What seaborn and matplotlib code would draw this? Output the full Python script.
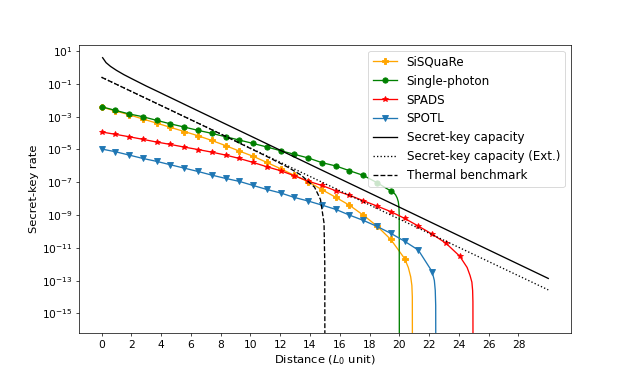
import matplotlib
matplotlib.use("Agg")
import matplotlib.pyplot as plt
import seaborn as sns
import pandas as pd

# marker positions along the distance axis (L0 units)
dist = [0.0, 0.925, 1.85, 2.775, 3.7, 4.625, 5.55, 6.475, 7.4, 8.325, 9.25,
        10.175, 11.1, 12.025, 12.95, 13.875, 14.8, 15.725, 16.65, 17.575, 18.5,
        19.425, 20.35, 21.275, 22.2, 23.125, 24.05]

sisquare = [3.8e-3, 2.2e-3, 1.3e-3, 7.1e-4, 4.0e-4, 2.2e-4, 1.23e-4, 6.8e-5, 3.5e-5,
            1.7e-5, 7.9e-6, 3.8e-6, 1.6e-6, 6.6e-7, 2.6e-7, 1.07e-7, 3.5e-8, 1.2e-8,
            3.9e-9, 9.8e-10, 2.1e-10, 3.2e-11, 2.2e-12]
sisquare_tail_x = [20.6, 20.76, 20.84, 20.87, 20.88]
sisquare_tail_y = [6.3e-13, 1.7e-13, 5e-14, 1e-14, 1e-20]

single = [3.98e-3, 2.4e-3, 1.45e-3, 9.8e-4, 5.9e-4, 3.6e-4, 2.3e-4, 1.45e-4, 9.5e-5,
          5.9e-5, 3.7e-5, 2.3e-5, 1.4e-5, 8.3e-6, 5.0e-6, 3.0e-6, 1.55e-6, 9.8e-7,
          5.0e-7, 2.6e-7, 9.3e-8, 2.9e-8]
single_tail_x = [19.6, 19.75, 19.85, 19.93, 19.97, 19.99, 20.0]
single_tail_y = [2.4e-8, 1.66e-8, 1.1e-8, 6.3e-9, 3.2e-9, 1e-9, 1e-20]

spads = [1.15e-4, 8.3e-5, 5.9e-5, 4.1e-5, 2.8e-5, 2.0e-5, 1.38e-5, 9.8e-6, 6.8e-6,
         4.5e-6, 2.8e-6, 1.6e-6, 8.7e-7, 5.0e-7, 2.45e-7, 1.15e-7, 6.3e-8, 3.0e-8,
         1.6e-8, 7.4e-9, 3.5e-9, 1.6e-9, 6.2e-10, 2.1e-10, 6.8e-11, 1.9e-11, 3.1e-12]
spads_tail_x = [24.55, 24.75, 24.87, 24.92, 24.94, 24.95]
spads_tail_y = [6.3e-13, 2e-13, 8e-14, 2.5e-14, 5e-15, 1e-20]

spotl = [1.05e-5, 7.2e-6, 4.5e-6, 2.8e-6, 1.86e-6, 1.15e-6, 7.2e-7, 4.5e-7, 2.7e-7,
         1.7e-7, 1.12e-7, 6.3e-8, 3.6e-8, 2.2e-8, 1.17e-8, 7.1e-9, 4.0e-9, 2.2e-9,
         9.8e-10, 4.7e-10, 2.0e-10, 7.6e-11, 2.5e-11, 7.2e-12, 3.5e-13]
spotl_tail_x = [22.35, 22.41, 22.44, 22.45]
spotl_tail_y = [1e-13, 2.5e-14, 3e-15, 1e-20]

cap_x = [0.07, 0.3, 0.6, 1, 1.5, 2, 3, 4, 6, 10, 15, 20, 25, 30]
cap_y = [3.9, 1.95, 1.15, 0.66, 0.36, 0.21, 0.073, 0.027, 3.6e-3, 6.6e-5, 4.4e-7,
         3.0e-9, 2.0e-11, 1.35e-13]

ext_x = [0, 10, 20, 30]
ext_y = [0.25, 1.2e-5, 5.6e-10, 2.7e-14]

therm_x = [0, 4, 8, 11, 12.5, 13.4, 14.3, 14.7, 14.94, 14.99, 15.0]
therm_y = [0.25, 4.7e-3, 8.7e-5, 4.1e-6, 8.3e-7, 2.7e-7, 5.0e-8, 8.9e-9, 3.2e-10,
           1e-12, 1e-20]

plt.rcParams['font.size'] = 13
fig = plt.figure(figsize=(10, 6.01), dpi=63.4)
ax = fig.add_axes([0.125, 0.125, 0.775, 0.757])

series = [
    ("SiSQuaRe", sisquare, sisquare_tail_x, sisquare_tail_y, "orange", "P"),
    ("Single-photon", single, single_tail_x, single_tail_y, "green", "o"),
    ("SPADS", spads, spads_tail_x, spads_tail_y, "red", "*"),
    ("SPOTL", spotl, spotl_tail_x, spotl_tail_y, "tab:blue", "v"),
]
for name, vals, tx, ty, col, mk in series:
    n = len(vals)
    df = pd.DataFrame({"x": dist[:n] + tx, "y": vals + ty})
    sns.lineplot(data=df, x="x", y="y", ax=ax, sort=False, estimator=None,
                 color=col, lw=1.5, marker=mk, markersize=6,
                 markevery=list(range(n)), markeredgecolor=col,
                 markeredgewidth=1.0, label=name)

sns.lineplot(x=cap_x, y=cap_y, ax=ax, sort=False, estimator=None, color="black",
             lw=1.5, label="Secret-key capacity")
sns.lineplot(x=ext_x, y=ext_y, ax=ax, sort=False, estimator=None, color="black",
             lw=1.5, linestyle=":", label="Secret-key capacity (Ext.)")
sns.lineplot(x=therm_x, y=therm_y, ax=ax, sort=False, estimator=None, color="black",
             lw=1.5, linestyle="--", label="Thermal benchmark")

ax.set_yscale("log")
ax.set_xlim(-1.5, 31.5)
ax.set_ylim(10 ** -16.22, 10 ** 1.37)
ax.set_xticks(range(0, 29, 2))
ax.set_yticks([10.0 ** e for e in range(1, -16, -2)])
ax.minorticks_off()
ax.tick_params(labelsize=12)
ax.set_xlabel("Distance ($L_0$ unit)")
ax.set_ylabel("Secret-key rate")
ax.legend(loc="upper right", fontsize=13.5, labelspacing=0.5)

fig.savefig("out.png", dpi=63.4)
